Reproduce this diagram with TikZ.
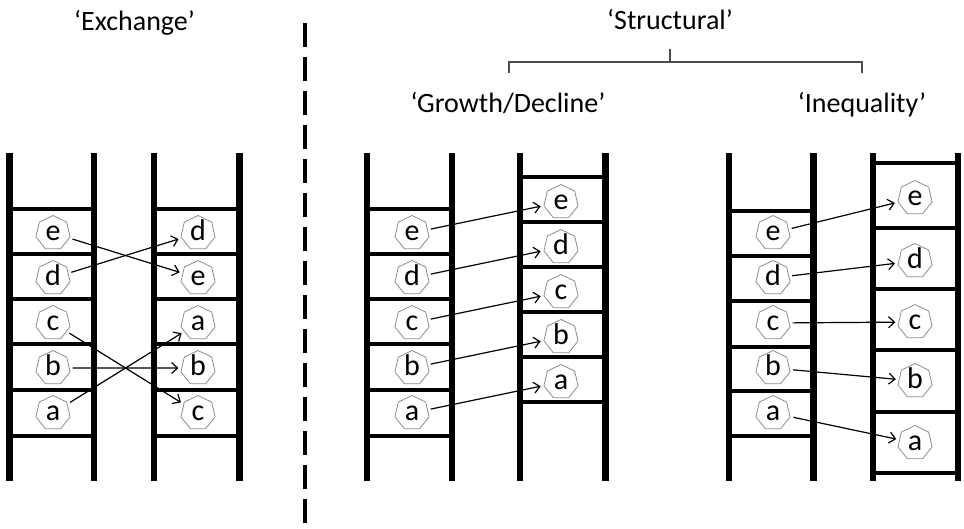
\documentclass[tikz,border=0pt]{standalone}
\usepackage{fontspec}
\setmainfont{Carlito}
\usetikzlibrary{shapes.geometric,arrows.meta}
\newcommand\drawladder[3]{%
  \foreach \yy in {#3}{\draw[rung] (#1,\yy) -- (#2,\yy);}
  \draw[rail] (#1,153) -- (#1,481);
  \draw[rail] (#2,153) -- (#2,481);}
\begin{document}
\begin{tikzpicture}[x=1pt,y=-1pt,
  rail/.style={line width=6.5pt},
  rung/.style={line width=3.5pt},
  hept/.style={regular polygon, regular polygon sides=7, minimum size=35pt, inner sep=0pt,
    draw=black!45, line width=0.8pt, text height=14pt, text depth=0pt,
    font=\fontsize{30}{30}\selectfont},
  mv/.style={line width=1.2pt, -{Straight Barb[length=6pt,width=11pt,line width=1.2pt]},
    shorten <=3pt, shorten >=3pt},
  title/.style={anchor=base, font=\fontsize{28}{30}\selectfont, inner sep=0pt},
  bracket/.style={line width=1.5pt, draw=black!70}]
\useasboundingbox (0,0) rectangle (964,528);
% titles
\node[title] (tex) at (134.5,30) {‘Exchange’};
\node[title] (tst) at (670,29) {‘Structural’};
\node[title] (tgr) at (508,112) {‘Growth/Decline’};
\node[title] (tin) at (862,112) {‘Inequality’};
% bracket
\coordinate (bl) at (509,73);
\coordinate (br) at (862,73);
\coordinate (bt) at (670,49);
\draw[bracket] (bl) -- (509,62) -- (862,62) -- (br);
\draw[bracket] (bt) -- (670,62);
% dashed divider
\coordinate (dtop) at (305,23);
\coordinate (dbot) at (305,528);
\draw[line width=3.5pt, dash pattern=on 24pt off 10pt] (dtop) -- (dbot);
% ladders
\drawladder{9.5}{94}{209,254,299,344,390,436}
\drawladder{154}{239.5}{209,254,299,344,390,436}
\drawladder{367}{452}{209,254,299,344,390,436}
\drawladder{520}{605.5}{177,222,267,312,357,402}
\drawladder{729}{813.5}{211,256,301,347,391,436}
\drawladder{873}{958}{163,228,289,350,412,473}
% nodes
\foreach \n/\y in {e/233,d/278,c/323,b/368,a/413}{
  \node[hept] (A\n) at (53,\y) {\n};
  \node[hept] (C\n) at (412,\y) {\n};
  \node[hept] (E\n) at (773,\y) {\n};}
\foreach \n/\y in {d/233,e/278,a/323,b/368,c/413}
  \node[hept] (B\n) at (198,\y) {\n};
\foreach \n/\y in {e/202,d/247,c/292,b/337,a/382}
  \node[hept] (D\n) at (561,\y) {\n};
\foreach \n/\y in {e/198,d/261,c/322,b/381,a/443}
  \node[hept] (F\n) at (915,\y) {\n};
% moves
\foreach \n in {a,b,c,d,e}{
  \draw[mv] (A\n) -- (B\n);
  \draw[mv] (C\n) -- (D\n);
  \draw[mv] (E\n) -- (F\n);}
\end{tikzpicture}
\end{document}
